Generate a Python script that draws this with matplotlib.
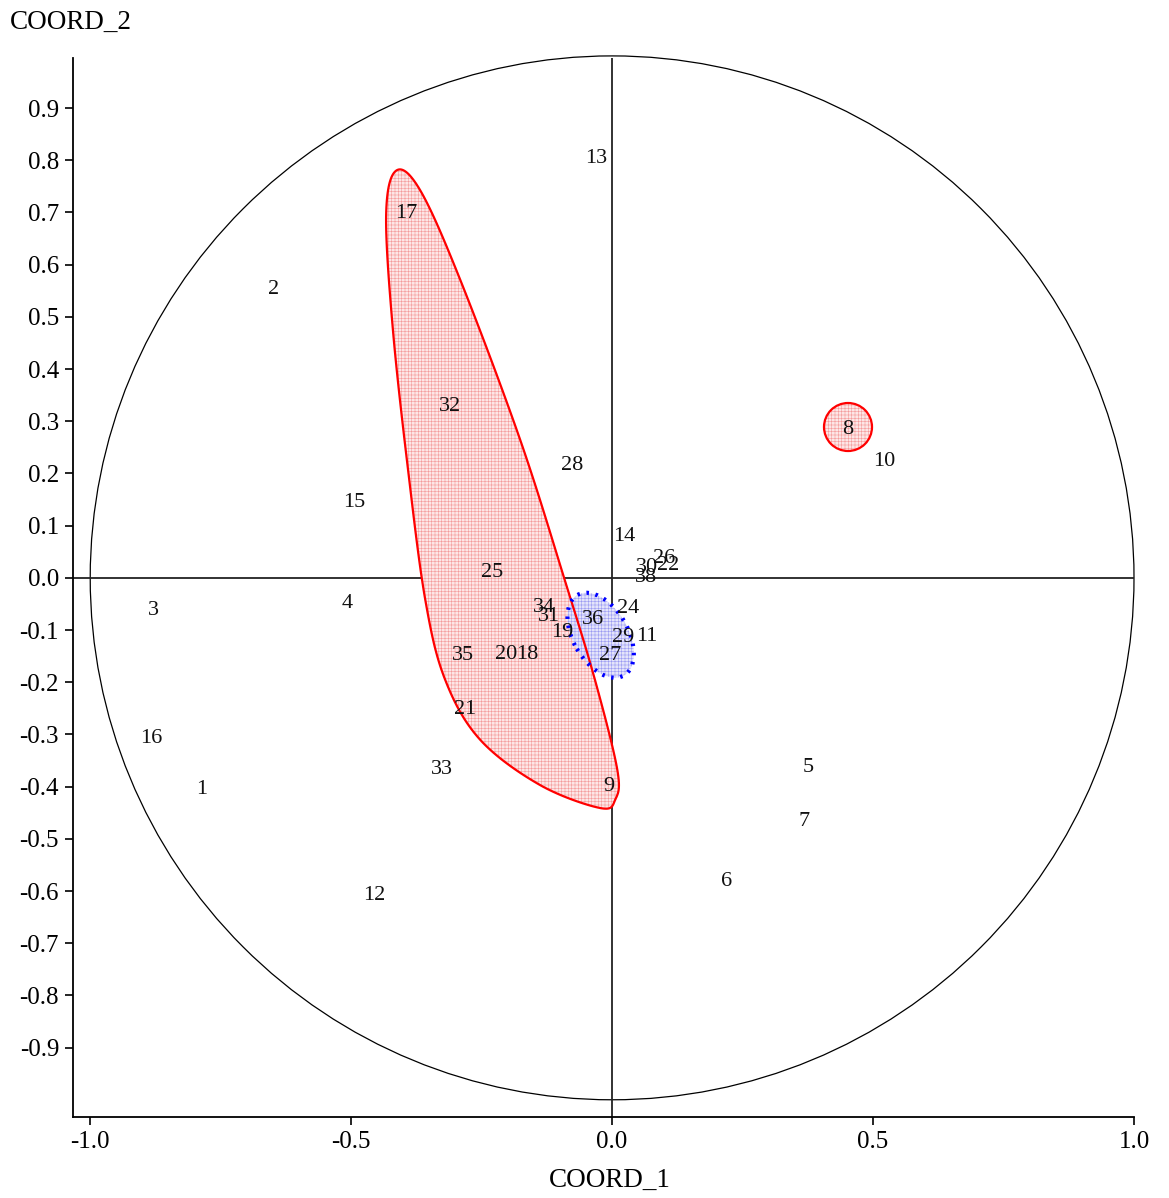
import matplotlib

matplotlib.use("Agg")
import matplotlib.pyplot as plt
import numpy as np
from matplotlib.patches import Circle, Ellipse, Polygon

plt.rcParams["font.family"] = ["Liberation Serif", "DejaVu Serif"]
plt.rcParams["hatch.linewidth"] = 0.4

# Variable coordinates on the first two axes
labels = ["13", "17", "2", "32", "28", "8", "10", "15", "14", "25", "26", "30", "22", "38",
          "3", "4", "34", "31", "24", "36", "19", "29", "11", "35", "20", "18", "27",
          "21", "16", "33", "5", "1", "9", "7", "6", "12"]
coord_1 = [-0.031, -0.395, -0.649, -0.310, -0.077, 0.452, 0.521, -0.494, 0.023, -0.230,
           0.100, 0.067, 0.107, 0.065, -0.879, -0.508, -0.130, -0.121, 0.031, -0.036,
           -0.096, 0.021, 0.067, -0.285, -0.203, -0.163, -0.004, -0.282, -0.883, -0.326,
           0.375, -0.787, -0.006, 0.368, 0.220, -0.456]
coord_2 = [0.803, 0.699, 0.552, 0.328, 0.215, 0.284, 0.222, 0.144, 0.080, 0.011,
           0.038, 0.019, 0.023, 0.000, -0.063, -0.050, -0.056, -0.075, -0.059, -0.080,
           -0.105, -0.115, -0.113, -0.149, -0.146, -0.146, -0.149, -0.253, -0.307, -0.368,
           -0.364, -0.406, -0.400, -0.467, -0.582, -0.609]

# Outline of the red group (smoothed below)
group_x = [-0.414, -0.433, -0.420, -0.391, -0.358, -0.320, -0.253, -0.138, -0.023,
           0.006, 0.010, -0.033, -0.088, -0.176, -0.291, -0.368]
group_y = [0.780, 0.695, 0.475, 0.207, -0.042, -0.195, -0.310, -0.397, -0.441,
           -0.425, -0.368, -0.195, -0.013, 0.264, 0.571, 0.743]

# Single-member group around variable 8
single_center = (0.452, 0.289)
single_radius = 0.046

# Blue group ellipse: center, width, height, angle
blue_center = (-0.022, -0.110)
blue_width = 0.178
blue_height = 0.105
blue_angle = -60

x_ticks = [-1.0, -0.5, 0.0, 0.5, 1.0]
y_ticks = [round(v, 1) + 0.0 for v in np.arange(-0.9, 0.95, 0.1)]


def closed_spline(xs, ys, n=20):
    # Catmull-Rom through the outline points, closed
    pts = np.column_stack([xs, ys])
    m = len(pts)
    out = []
    for i in range(m):
        p0, p1, p2, p3 = pts[(i - 1) % m], pts[i], pts[(i + 1) % m], pts[(i + 2) % m]
        for t in np.linspace(0, 1, n, endpoint=False):
            t2, t3 = t * t, t * t * t
            out.append(0.5 * ((2 * p1) + (-p0 + p2) * t
                              + (2 * p0 - 5 * p1 + 4 * p2 - p3) * t2
                              + (-p0 + 3 * p1 - 3 * p2 + p3) * t3))
    return np.array(out)


def fmt(v):
    s = f"{v:.1f}"
    return "0.0" if s == "-0.0" else s


fig = plt.figure(figsize=(11.69, 11.98), dpi=100)
ax = fig.add_axes([73 / 1169, 1 - 1117 / 1198, (1134 - 73) / 1169, (1117 - 58) / 1198])
ax.set_xlim(-1.033, 1.0)
ax.set_ylim(-1.033, 0.996)

# Unit circle and axes through the origin
ax.add_patch(Circle((0, 0), 1.0, fill=False, edgecolor="black", linewidth=0.9,
                    zorder=1, clip_on=False))
ax.axhline(0, color="#222222", linewidth=1.3, zorder=1)
ax.axvline(0, color="#222222", linewidth=1.3, zorder=1)

# Red group
outline = closed_spline(group_x, group_y)
ax.add_patch(Polygon(outline, closed=True, facecolor="#fde6e6", edgecolor="#f49a9a",
                     hatch="+++++", linewidth=0, zorder=2))
ax.add_patch(Polygon(outline, closed=True, fill=False, edgecolor="red", linewidth=1.6, zorder=3))

ax.add_patch(Circle(single_center, single_radius, facecolor="#fde6e6", edgecolor="#f49a9a",
                    hatch="+++++", linewidth=0, zorder=2))
ax.add_patch(Circle(single_center, single_radius, fill=False, edgecolor="red",
                    linewidth=1.6, zorder=3))

# Blue group
ax.add_patch(Ellipse(blue_center, blue_width, blue_height, angle=blue_angle,
                     facecolor="#e4e4fb", edgecolor="#9a9af2", hatch="+++++",
                     linewidth=0, zorder=2))
ax.add_patch(Ellipse(blue_center, blue_width, blue_height, angle=blue_angle, fill=False,
                     edgecolor="blue", linewidth=3, linestyle=(0, (0.6, 1.6)),
                     zorder=3))

for lab, x, y in zip(labels, coord_1, coord_2):
    ax.text(x, y, lab, ha="center", va="center", fontsize=16, color="#111111", zorder=4)

ax.spines["top"].set_visible(False)
ax.spines["right"].set_visible(False)
ax.spines["left"].set_linewidth(1.3)
ax.spines["bottom"].set_linewidth(1.3)
ax.set_xticks(x_ticks)
ax.set_xticklabels([fmt(v) for v in x_ticks])
ax.set_yticks(y_ticks)
ax.set_yticklabels([fmt(v) for v in y_ticks])
ax.tick_params(axis="both", direction="out", length=6, width=1.2, labelsize=18, pad=4)

fig.text(10 / 1169, 1 - 22 / 1198, "COORD_2", ha="left", va="center", fontsize=19.5)
fig.text(610 / 1169, 1 - 1180 / 1198, "COORD_1", ha="center", va="center", fontsize=19.5)

fig.savefig("out.png", dpi=100)
